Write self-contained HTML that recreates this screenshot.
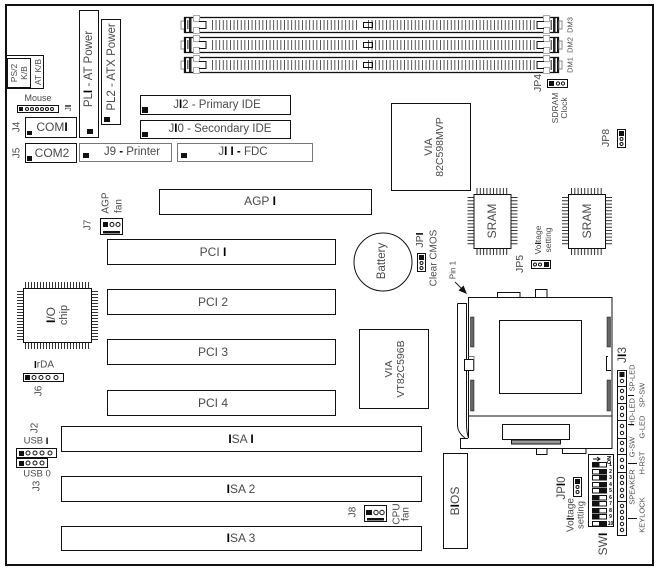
<!DOCTYPE html>
<html><head><meta charset="utf-8"><style>
html,body{margin:0;padding:0;background:#fff;width:657px;height:572px;overflow:hidden}
svg{display:block}
text{font-family:"Liberation Sans",sans-serif;fill:#4a4a4a;text-anchor:middle;dominant-baseline:central;font-size:10.5px}
.b{fill:#000;font-weight:bold}
.s{font-size:8.5px}
.r{fill:none;stroke:#111;stroke-width:1}
.g{fill:none;stroke:#777;stroke-width:1}
.t{stroke:#111;fill:none}
</style></head><body>
<svg width="657" height="572" viewBox="0 0 657 572" xmlns="http://www.w3.org/2000/svg">
<defs>
<g id="dimm">
<rect x="184.5" y="0.5" width="374" height="15" fill="none" stroke="#111" stroke-width="1.3"/>
<line x1="212" y1="8" x2="358" y2="8" stroke="#444" stroke-width="10" stroke-dasharray="0.9 2.7"/>
<line x1="368" y1="8" x2="537" y2="8" stroke="#444" stroke-width="10" stroke-dasharray="0.9 2.7"/>
<rect x="363.5" y="5.5" width="9" height="5" class="r"/>
<rect x="181" y="4" width="4" height="8" fill="#fff" stroke="#888"/>
<rect x="184" y="0" width="2" height="16" fill="#111"/>
<rect x="187" y="3" width="1.5" height="9" fill="#666"/>
<rect x="189" y="1" width="2.5" height="14" fill="#222"/>
<rect x="193.5" y="-1.5" width="6" height="6" fill="#fff" stroke="#aaa"/>
<rect x="193.5" y="10.5" width="6" height="6" fill="#fff" stroke="#aaa"/>
<path d="M199 4.5H206V11.5H199" class="r"/>
<rect x="557" y="0" width="2" height="16" fill="#111"/>
<rect x="553" y="1" width="2.5" height="14" fill="#222"/>
<rect x="550.5" y="3" width="1.5" height="10" fill="#666"/>
<rect x="559" y="4" width="3" height="8" fill="#fff" stroke="#888"/>
<rect x="543.5" y="-1.5" width="6" height="6" fill="#fff" stroke="#aaa"/>
<rect x="543.5" y="10.5" width="6" height="6" fill="#fff" stroke="#aaa"/>
<path d="M544 4.5H537V11.5H544" class="r"/>
</g>
<g id="sram">
<rect x="0.5" y="0.5" width="37" height="54" class="r"/>
<line x1="-3" y1="3" x2="-3" y2="52" stroke="#333" stroke-width="6" stroke-dasharray="1 2.3"/>
<line x1="41" y1="3" x2="41" y2="52" stroke="#333" stroke-width="6" stroke-dasharray="1 2.3"/>
<line x1="3" y1="-3" x2="36" y2="-3" stroke="#333" stroke-width="6" stroke-dasharray="1 2.3"/>
<line x1="3" y1="58" x2="36" y2="58" stroke="#333" stroke-width="6" stroke-dasharray="1 2.3"/>
</g>
</defs>

<rect x="6" y="5" width="647" height="560" fill="none" stroke="#111" stroke-width="2"/>

<!-- DIMMs -->
<use href="#dimm" y="17"/><use href="#dimm" y="37"/><use href="#dimm" y="57"/>
<text class="s" transform="translate(570,25) rotate(-90)" style="font-size:7.5px">DM3</text>
<text class="s" transform="translate(570,45) rotate(-90)" style="font-size:7.5px">DM2</text>
<text class="s" transform="translate(570,65) rotate(-90)" style="font-size:7.5px">DM1</text>

<!-- JP4 -->
<rect x="547.5" y="79.5" width="20" height="8" class="r"/>
<rect x="549" y="81" width="5" height="5" fill="#111"/>
<circle cx="558" cy="83.5" r="1.6" class="r"/><circle cx="563" cy="83.5" r="1.6" class="r"/>
<text transform="translate(538,83) rotate(-90)">JP4</text>
<text class="s" transform="translate(555,108) rotate(-90)">SDRAM</text>
<text class="s" transform="translate(564,108) rotate(-90)">Clock</text>

<!-- left top -->
<rect x="7.5" y="58.5" width="23" height="29" class="r"/>
<path d="M7 55.5H43.5V88.5H7" class="r"/>
<text class="s" transform="translate(14,73) rotate(-90)">PS/2</text>
<text class="s" transform="translate(24,73) rotate(-90)">K/B</text>
<text class="s" transform="translate(38,72) rotate(-90)">AT K/B</text>
<text x="38" y="98" class="s" style="font-size:9px">Mouse</text>
<rect x="17.5" y="105.5" width="41" height="7" class="r"/>
<rect x="19" y="107" width="4" height="4" fill="#111"/>
<circle cx="27" cy="109" r="1.5" class="r"/><circle cx="32" cy="109" r="1.5" class="r"/><circle cx="37" cy="109" r="1.5" class="r"/><circle cx="42" cy="109" r="1.5" class="r"/><circle cx="47" cy="109" r="1.5" class="r"/><circle cx="52" cy="109" r="1.5" class="r"/>
<text class="s" transform="translate(68,108) rotate(-90)">J<tspan class="b">I</tspan></text>

<rect x="25.5" y="117.5" width="51" height="20" class="r"/>
<rect x="27" y="131" width="5" height="4" fill="#111"/>
<text x="52" y="127" style="font-size:12px">COM<tspan class="b">I</tspan></text>
<text transform="translate(17,127) rotate(-90)" style="font-size:10px">J4</text>
<rect x="25.5" y="143.5" width="51" height="19" class="r"/>
<rect x="27" y="156" width="5" height="5" fill="#111"/>
<text x="52" y="153" style="font-size:12px">COM2</text>
<text transform="translate(17,153) rotate(-90)" style="font-size:10px">J5</text>

<rect x="79.5" y="10.5" width="19" height="127" class="r"/>
<rect x="87" y="129" width="6" height="5" fill="#111"/>
<text transform="translate(89,69) rotate(-90)" style="font-size:11.5px">PL<tspan class="b">I</tspan> - AT Power</text>
<rect x="101.5" y="19.5" width="19" height="105" class="r"/>
<rect x="104" y="117" width="6" height="5" fill="#111"/>
<text transform="translate(112,67) rotate(-90)" style="font-size:11.5px">PL2 - ATX Power</text>

<rect x="140.5" y="95.5" width="150" height="19" class="r"/>
<rect x="142" y="107" width="6" height="6" fill="#111"/>
<text x="217" y="105" style="font-size:11.5px">J<tspan class="b">I</tspan>2 - Primary IDE</text>
<rect x="140.5" y="120.5" width="150" height="18" class="r"/>
<rect x="142" y="132" width="6" height="5" fill="#111"/>
<text x="220" y="129" style="font-size:11.5px">J<tspan class="b">I</tspan>0 - Secondary IDE</text>
<rect x="79.5" y="143.5" width="92" height="18" class="g"/>
<rect x="83" y="153" width="6" height="5" fill="#111"/>
<text x="132" y="152" style="font-size:11.5px">J9 <tspan class="b">-</tspan> Printer</text>
<rect x="177.5" y="143.5" width="135" height="18" class="g"/>
<rect x="181" y="153" width="6" height="5" fill="#111"/>
<text x="243" y="152" style="font-size:11.5px">J<tspan class="b">I I</tspan> <tspan class="b">-</tspan> FDC</text>

<rect x="159.5" y="189.5" width="212" height="25" class="r"/>
<text x="260" y="201" style="font-size:12px">AGP <tspan class="b">I</tspan></text>

<!-- J7 -->
<rect x="100.5" y="218.5" width="22" height="16" class="r"/>
<rect x="103" y="222" width="5" height="5" fill="#111"/>
<circle cx="112" cy="224.5" r="2" class="r"/><circle cx="118" cy="224.5" r="2" class="r"/>
<rect x="103" y="231" width="17" height="2.5" fill="#111"/>
<text transform="translate(88,225) rotate(-90)" style="font-size:10px">J7</text>
<text transform="translate(106,203) rotate(-90)" style="font-size:10px">AGP</text>
<text transform="translate(119,206) rotate(-90)" style="font-size:10px">fan</text>

<!-- PCI -->
<rect x="107.5" y="239.5" width="228" height="25" class="r"/><text x="213" y="252" style="font-size:12px">PCI <tspan class="b">I</tspan></text>
<rect x="107.5" y="289.5" width="228" height="25" class="r"/><text x="213" y="302" style="font-size:12px">PCI 2</text>
<rect x="107.5" y="339.5" width="228" height="25" class="r"/><text x="213" y="352" style="font-size:12px">PCI 3</text>
<rect x="107.5" y="390.5" width="228" height="25" class="r"/><text x="213" y="403" style="font-size:12px">PCI 4</text>

<!-- ISA -->
<rect x="61.5" y="426.5" width="360" height="25" class="r"/><text x="241" y="439" style="font-size:12px"><tspan class="b">I</tspan>SA <tspan class="b">I</tspan></text>
<rect x="61.5" y="476.5" width="360" height="25" class="r"/><text x="241" y="489" style="font-size:12px"><tspan class="b">I</tspan>SA 2</text>
<rect x="61.5" y="526.5" width="360" height="24" class="r"/><text x="241" y="538" style="font-size:12px"><tspan class="b">I</tspan>SA 3</text>

<!-- I/O chip -->
<rect x="23.5" y="288.5" width="68" height="54" class="r"/>
<line x1="25" y1="285" x2="90" y2="285" stroke="#333" stroke-width="6" stroke-dasharray="1 2"/>
<line x1="25" y1="346" x2="90" y2="346" stroke="#333" stroke-width="6" stroke-dasharray="1 2"/>
<line x1="20" y1="291" x2="20" y2="341" stroke="#333" stroke-width="6" stroke-dasharray="1 2"/>
<line x1="95" y1="291" x2="95" y2="341" stroke="#333" stroke-width="6" stroke-dasharray="1 2"/>
<text transform="translate(51,315) rotate(-90)" style="font-size:12px"><tspan class="b">I</tspan>/O</text>
<text transform="translate(64,315) rotate(-90)" style="font-size:11px">chip</text>

<!-- IrDA -->
<text x="44" y="365" style="font-size:10px"><tspan class="b">I</tspan>rDA</text>
<rect x="23.5" y="373.5" width="40" height="8" class="r"/>
<rect x="25" y="375" width="5" height="5" fill="#111"/>
<circle cx="34" cy="377.5" r="2" class="r"/><circle cx="41" cy="377.5" r="2" class="r"/><circle cx="48" cy="377.5" r="2" class="r"/><circle cx="56" cy="377.5" r="2" class="r"/>
<text transform="translate(39,391) rotate(-90)" style="font-size:10px">J6</text>

<!-- USB -->
<text transform="translate(35,428) rotate(-90)" style="font-size:10px">J2</text>
<text x="36" y="441" class="s" style="font-size:9.5px">USB <tspan class="b">I</tspan></text>
<rect x="16.5" y="448.5" width="40" height="9" class="r"/>
<rect x="19" y="451" width="5" height="5" fill="#111"/>
<circle cx="28" cy="453" r="2" class="r"/><circle cx="35" cy="453" r="2" class="r"/><circle cx="42" cy="453" r="2" class="r"/><circle cx="50" cy="453" r="2" class="r"/>
<rect x="16.5" y="458.5" width="31" height="9" class="r"/>
<rect x="19" y="461" width="5" height="5" fill="#111"/>
<circle cx="28" cy="463" r="2" class="r"/><circle cx="35" cy="463" r="2" class="r"/><circle cx="42" cy="463" r="2" class="r"/>
<text x="37" y="474" class="s" style="font-size:9.5px">USB 0</text>
<text transform="translate(37,486) rotate(-90)" style="font-size:10px">J3</text>

<!-- VIA north -->
<rect x="391.5" y="103.5" width="79" height="87" class="r"/>
<text transform="translate(429,147) rotate(-90)" style="font-size:11px">VIA</text>
<text transform="translate(440,147) rotate(-90)" style="font-size:10.5px">82C598MVP</text>

<!-- SRAM -->
<use href="#sram" x="473.5" y="194"/><use href="#sram" x="568" y="194"/>
<text transform="translate(492,221) rotate(-90)" style="font-size:12px">SRAM</text>
<text transform="translate(587,221) rotate(-90)" style="font-size:12px">SRAM</text>

<!-- JP8 -->
<rect x="617.5" y="129.5" width="8" height="18" class="r"/>
<rect x="619" y="131" width="5" height="5" fill="#111"/>
<circle cx="621.5" cy="139" r="1.5" class="r"/><circle cx="621.5" cy="144" r="1.5" class="r"/>
<text transform="translate(606,138) rotate(-90)" style="font-size:10.5px">JP8</text>

<!-- JP5 -->
<text class="s" transform="translate(538,240) rotate(-90)"><tspan>Vo</tspan><tspan class="b">l</tspan>tage</text>
<text class="s" transform="translate(548,240) rotate(-90)">setting</text>
<rect x="531.5" y="260.5" width="19" height="8" class="r"/>
<rect x="544" y="262" width="5" height="5" fill="#111"/>
<circle cx="535" cy="264.5" r="1.5" class="r"/><circle cx="540" cy="264.5" r="1.5" class="r"/>
<text transform="translate(520,264) rotate(-90)" style="font-size:10.5px">JP5</text>

<!-- Battery -->
<circle cx="383" cy="262" r="29" class="r"/>
<text transform="translate(382,261) rotate(-90)" style="font-size:11.5px">Battery</text>

<!-- JP1 -->
<rect x="417.5" y="253.5" width="8" height="18" class="r"/>
<rect x="419" y="255" width="5" height="5" fill="#111"/>
<circle cx="421.5" cy="263" r="1.5" class="r"/><circle cx="421.5" cy="268" r="1.5" class="r"/>
<text transform="translate(420,240) rotate(-90)" style="font-size:10.5px">JP<tspan class="b">I</tspan></text>
<text transform="translate(434,258) rotate(-90)" style="font-size:10px">Clear CMOS</text>

<!-- Pin 1 -->
<text transform="translate(453,270) rotate(-90)" style="font-size:8px">Pin 1</text>
<line x1="455" y1="282" x2="462" y2="289" stroke="#222"/>
<path d="M467 294L458.5 290.5L463.5 285.5Z" fill="#111"/>

<!-- CPU socket -->
<path d="M497.5 297V292.5H520V297M535.5 297V289.5H547V297" class="r"/>
<path d="M468.5 438V297.5H612V448.5H460.5V438.5H468" class="r"/>
<line x1="468" y1="416" x2="612" y2="416" stroke="#111"/>
<path d="M457.5 303.5H466.5V424Q466.5 432 468.5 438M457.5 303.5V426Q458 433 465 438" class="r"/>
<rect x="499.5" y="320.5" width="82" height="73" class="r"/>
<rect x="470.5" y="317" width="3.5" height="30" fill="#666" stroke="#111" stroke-width=".5"/>
<rect x="470.5" y="380" width="3.5" height="31" fill="#666" stroke="#111" stroke-width=".5"/>
<rect x="607" y="317" width="3.5" height="30" fill="#666" stroke="#111" stroke-width=".5"/>
<rect x="607" y="380" width="3.5" height="31" fill="#666" stroke="#111" stroke-width=".5"/>
<path d="M608 356.5H606.5V370.5H611" class="r" fill="#fff"/>
<rect x="464.5" y="359.5" width="9" height="11" fill="#fff" stroke="#111"/>
<path d="M468.5 356.5H474V370.5" class="g"/>
<rect x="502.5" y="424.5" width="67" height="15" class="r"/>
<rect x="511.5" y="440" width="49" height="4" fill="#999" stroke="#111"/>
<path d="M536.5 449V454.5H547V449M562.5 449V453.5H586V449" class="r"/>

<!-- J13 -->
<text transform="translate(622,355) rotate(-90)" style="font-size:12px">J<tspan class="b">I</tspan>3</text>
<rect x="617.5" y="370.5" width="9" height="165" class="r"/>
<line x1="617" y1="386.5" x2="627" y2="386.5" stroke="#111"/>
<line x1="617" y1="403.5" x2="627" y2="403.5" stroke="#111"/>
<line x1="617" y1="420.5" x2="627" y2="420.5" stroke="#111"/>
<line x1="617" y1="438.5" x2="627" y2="438.5" stroke="#111"/>
<line x1="617" y1="454.5" x2="627" y2="454.5" stroke="#111"/>
<line x1="617" y1="472.5" x2="627" y2="472.5" stroke="#111"/>
<line x1="617" y1="501.5" x2="627" y2="501.5" stroke="#111"/>
<rect x="619.5" y="372" width="5" height="5" fill="#111"/>
<circle cx="622" cy="381" r="1.7" class="r"/><circle cx="622" cy="391" r="1.7" class="r"/><circle cx="622" cy="398" r="1.7" class="r"/><circle cx="622" cy="408" r="1.7" class="r"/><circle cx="622" cy="415" r="1.7" class="r"/><circle cx="622" cy="426" r="1.7" class="r"/><circle cx="622" cy="433" r="1.7" class="r"/><circle cx="622" cy="443" r="1.7" class="r"/><circle cx="622" cy="450" r="1.7" class="r"/><circle cx="622" cy="460" r="1.7" class="r"/><circle cx="622" cy="467" r="1.7" class="r"/><circle cx="622" cy="477" r="1.7" class="r"/><circle cx="622" cy="483" r="1.7" class="r"/><circle cx="622" cy="490" r="1.7" class="r"/><circle cx="622" cy="496" r="1.7" class="r"/><circle cx="622" cy="506" r="1.7" class="r"/><circle cx="622" cy="512" r="1.7" class="r"/><circle cx="622" cy="518" r="1.7" class="r"/><circle cx="622" cy="524" r="1.7" class="r"/><circle cx="622" cy="530" r="1.7" class="r"/>
<text class="s" transform="translate(632,378) rotate(-90)" style="font-size:7.5px">SP-LED</text>
<text class="s" transform="translate(642,395) rotate(-90)" style="font-size:7.5px">SP-SW</text>
<text class="s" transform="translate(632,412) rotate(-90)" style="font-size:7.5px">HD-LED</text>
<text class="s" transform="translate(642,427) rotate(-90)" style="font-size:7.5px">G-LED</text>
<text class="s" transform="translate(632,447) rotate(-90)" style="font-size:7.5px">G-SW</text>
<text class="s" transform="translate(642,463) rotate(-90)" style="font-size:7.5px">H-RST</text>
<text class="s" transform="translate(632,487) rotate(-90)" style="font-size:7.5px">SPEAKER</text>
<text class="s" transform="translate(642,515) rotate(-90)" style="font-size:7.5px">KEYLOCK</text>
<path d="M628 395.5H634M628 424.5H634M628 463.5H637M628 518.5H637" stroke="#111" fill="none"/>

<!-- SW1 -->
<rect x="588.5" y="454.5" width="25" height="72" class="r"/>
<path d="M593 459H599M597 457L600 459L597 461" class="t"/>
<text transform="translate(610,460) rotate(-90)" class="b" style="font-size:5.5px">ON</text>
<g class="r">
<rect x="592.5" y="462.5" width="14" height="4.5"/><rect x="592.5" y="469.5" width="14" height="4.5"/><rect x="592.5" y="475.5" width="14" height="4.5"/><rect x="592.5" y="482.5" width="14" height="4.5"/><rect x="592.5" y="488.5" width="14" height="4.5"/><rect x="592.5" y="495.5" width="14" height="4.5"/><rect x="592.5" y="501.5" width="14" height="4.5"/><rect x="592.5" y="508.5" width="14" height="4.5"/><rect x="592.5" y="514.5" width="14" height="4.5"/><rect x="592.5" y="521.5" width="14" height="4.5"/>
</g>
<g fill="#111">
<rect x="592" y="462" width="7.5" height="5.5"/><rect x="599" y="469" width="7.5" height="5.5"/><rect x="599" y="475" width="7.5" height="5.5"/><rect x="599" y="482" width="7.5" height="5.5"/><rect x="599" y="488" width="7.5" height="5.5"/><rect x="592" y="495" width="7.5" height="5.5"/><rect x="592" y="501" width="7.5" height="5.5"/><rect x="592" y="508" width="7.5" height="5.5"/><rect x="592" y="514" width="7.5" height="5.5"/><rect x="599" y="521" width="7.5" height="5.5"/>
</g>
<text x="610.5" y="465" class="b" style="font-size:5px">1</text><text x="610.5" y="472" class="b" style="font-size:5px">2</text><text x="610.5" y="478" class="b" style="font-size:5px">3</text><text x="610.5" y="485" class="b" style="font-size:5px">4</text><text x="610.5" y="491" class="b" style="font-size:5px">5</text><text x="610.5" y="498" class="b" style="font-size:5px">6</text><text x="610.5" y="504" class="b" style="font-size:5px">7</text><text x="610.5" y="511" class="b" style="font-size:5px">8</text><text x="610.5" y="517" class="b" style="font-size:5px">9</text><text x="610.5" y="524" class="b" style="font-size:5px">10</text>
<text transform="translate(603,544) rotate(-90)" style="font-size:12px">SW<tspan class="b">I</tspan></text>

<!-- JP10 -->
<rect x="573.5" y="477.5" width="8" height="19" class="r"/>
<rect x="575" y="479" width="5" height="5" fill="#111"/>
<circle cx="577.5" cy="487" r="1.5" class="r"/><circle cx="577.5" cy="492" r="1.5" class="r"/>
<text transform="translate(562,488) rotate(-90)" style="font-size:11.5px">JP<tspan class="b">I</tspan>0</text>
<text transform="translate(571,515) rotate(-90)" style="font-size:10px">Vo<tspan class="b">l</tspan>tage</text>
<text transform="translate(581,515) rotate(-90)" style="font-size:9.5px">setting</text>

<!-- BIOS -->
<rect x="443.5" y="453.5" width="24" height="95" class="r"/>
<text transform="translate(455,501) rotate(-90)" style="font-size:12px">B<tspan class="b">I</tspan>OS</text>

<!-- VIA south -->
<rect x="359.5" y="329.5" width="69" height="79" class="r"/>
<text transform="translate(389,369) rotate(-90)" style="font-size:10.5px">VIA</text>
<text transform="translate(401,369) rotate(-90)" style="font-size:10.5px">VT82C596B</text>

<!-- J8 -->
<rect x="364.5" y="505.5" width="22" height="16" class="r"/>
<rect x="366" y="510" width="6" height="5" fill="#111"/>
<circle cx="376" cy="512.5" r="2.2" class="r"/><circle cx="382" cy="512.5" r="2.2" class="r"/>
<rect x="367" y="518" width="17" height="2.5" fill="#111"/>
<text transform="translate(353,512) rotate(-90)" style="font-size:10px">J8</text>
<text transform="translate(397,514) rotate(-90)" style="font-size:10px">CPU</text>
<text transform="translate(406,514) rotate(-90)" style="font-size:10px">fan</text>
</svg>
</body></html>
